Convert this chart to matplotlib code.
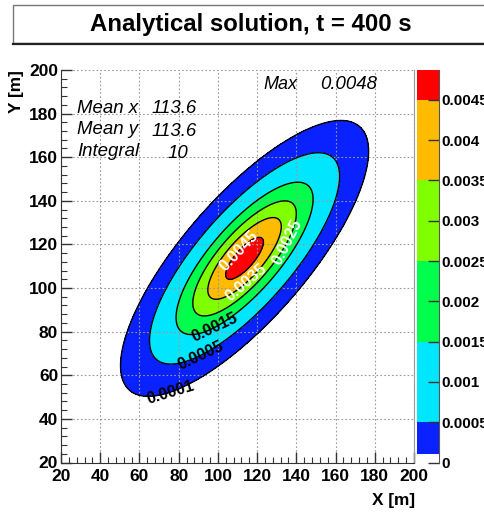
import numpy as np
import matplotlib
matplotlib.use("Agg")
import matplotlib.pyplot as plt
from matplotlib.patches import Rectangle
from matplotlib.ticker import MultipleLocator

plt.rcParams['font.family'] = ['Liberation Sans', 'DejaVu Sans']

# ---- data (analytical Gaussian plume parameters) ----
title = "Analytical solution, t = 400 s"
mean_x = 113.6
mean_y = 113.6
integral = 10.0
sigma_major = 30.2     # along the 45 deg diagonal
sigma_minor = 10.7
angle_deg = 45.0
max_text = "0.0048"

levels = [0.0001, 0.0005, 0.0015, 0.0025, 0.0035, 0.0045]
level_labels = ["0.0001", "0.0005", "0.0015", "0.0025", "0.0035", "0.0045"]
label_colors = ["black", "black", "black", "white", "white", "white"]
label_pos_x = [75.6, 90.9, 98.0, 136.3, 113.8, 113.3]
label_pos_y = [52.3, 69.3, 82.6, 120.7, 102.8, 114.7]
fill_colors = ["#0a22ff", "#00e6ff", "#00ff4c", "#80ff00", "#ffbb00", "#ff0000"]
cb_max = 0.00487
cb_ticks = [0, 0.0005, 0.001, 0.0015, 0.002, 0.0025, 0.003, 0.0035, 0.004, 0.0045]
cb_ticklabels = ["0", "0.0005", "0.001", "0.0015", "0.002", "0.0025", "0.003", "0.0035", "0.004", "0.0045"]
x_ticks = [20, 40, 60, 80, 100, 120, 140, 160, 180, 200]
y_ticks = [20, 40, 60, 80, 100, 120, 140, 160, 180, 200]

# ---- field ----
gx = np.linspace(20, 200, 601)
gy = np.linspace(20, 200, 601)
X, Y = np.meshgrid(gx, gy)
th = np.deg2rad(angle_deg)
u = (X - mean_x) * np.cos(th) + (Y - mean_y) * np.sin(th)
v = -(X - mean_x) * np.sin(th) + (Y - mean_y) * np.cos(th)
peak = integral / (2 * np.pi * sigma_major * sigma_minor)
Z = peak * np.exp(-0.5 * (u ** 2 / sigma_major ** 2 + v ** 2 / sigma_minor ** 2))

W, H = 485, 513
fig = plt.figure(figsize=(W / 100, H / 100), dpi=100)

def px_rect(l, t, r, b):
    return [l / W, 1 - b / H, (r - l) / W, (b - t) / H]

ax = fig.add_axes(px_rect(61, 70, 414, 462.5))
ax.contourf(X, Y, Z, levels=levels + [1.0], colors=fill_colors)
cs = ax.contour(X, Y, Z, levels=levels, colors="black", linewidths=1.0)
fmt = dict(zip(levels, level_labels))
texts = ax.clabel(cs, levels=levels, manual=list(zip(label_pos_x, label_pos_y)),
                  inline=False, fontsize=11.5, fmt=fmt, colors=label_colors)
for t in texts:
    t.set_fontweight("bold")

ax.set_xlim(20, 200)
ax.set_ylim(20, 200)
ax.set_xticks(x_ticks)
ax.set_yticks(y_ticks)
ax.xaxis.set_minor_locator(MultipleLocator(4))
ax.yaxis.set_minor_locator(MultipleLocator(4))
ax.tick_params(which="major", direction="in", length=8, width=1, colors="#333333",
               labelsize=12.5, labelcolor="black")
ax.tick_params(which="minor", direction="in", length=4, width=0.8, colors="#333333")
ax.tick_params(axis="x", pad=5)
ax.tick_params(axis="y", pad=2)
for lab in ax.get_xticklabels() + ax.get_yticklabels():
    lab.set_fontweight("bold")
ax.grid(True, which="major", linestyle=(0, (1.5, 2)), color="#999999", linewidth=0.8)
ax.spines["top"].set_visible(False)
ax.spines["right"].set_color("#999999")
ax.spines["right"].set_linewidth(0.8)
ax.spines["left"].set_color("#333333")
ax.spines["bottom"].set_color("#333333")

def fig_text(xp, yp, s, **kw):
    fig.text(xp / W, 1 - yp / H, s, **kw)

# stats text
fig_text(77, 113, "Mean x", fontsize=13.4, style="italic", va="baseline")
fig_text(197, 113, "113.6", fontsize=13.4, style="italic", va="baseline", ha="right")
fig_text(77, 134, "Mean y", fontsize=13.4, style="italic", va="baseline")
fig_text(197, 136, "113.6", fontsize=13.4, style="italic", va="baseline", ha="right")
fig_text(77, 156, "Integral", fontsize=13.4, style="italic", va="baseline")
fig_text(188, 158, "10", fontsize=13.4, style="italic", va="baseline", ha="right")
fig_text(263, 89, "Max", fontsize=13, style="italic", va="baseline")
fig_text(320, 89, max_text, fontsize=13.4, style="italic", va="baseline")

# axis titles
fig_text(415, 500, "X [m]", fontsize=12.4, fontweight="bold", ha="right", va="center")
fig_text(17, 70, "Y [m]", fontsize=12.4, fontweight="bold", ha="center", va="top", rotation=90)

# colorbar
cax = fig.add_axes(px_rect(417.3, 70, 439.5, 462.5))
bounds = levels + [cb_max]
for i, c in enumerate(fill_colors):
    cax.bar(0.5, bounds[i + 1] - bounds[i], bottom=bounds[i], width=1.0, color=c,
            linewidth=0)
cax.set_xlim(0, 1)
cax.set_ylim(0, cb_max)
cax.set_xticks([])
cax.set_yticks(cb_ticks)
cax.set_yticklabels(cb_ticklabels)
cax.yaxis.tick_right()
cax.tick_params(axis="y", direction="in", length=8, width=1, colors="#333333",
                labelsize=11, labelcolor="black", pad=1.5)
for lab in cax.get_yticklabels():
    lab.set_fontweight("bold")
for s in ["top", "left", "bottom"]:
    cax.spines[s].set_visible(False)
cax.spines["right"].set_color("#555555")
cax.patch.set_alpha(0)

# title box
fig.patches.append(Rectangle((13 / W, 1 - 43 / H), (W + 5 - 13) / W, 38 / H,
                             transform=fig.transFigure, facecolor="white",
                             edgecolor="#777777", linewidth=1.0))
fig.lines.append(plt.Line2D([13 / W, 1], [1 - 43.5 / H, 1 - 43.5 / H],
                            transform=fig.transFigure, color="#222222", linewidth=1.6))
fig_text(251, 24, title, fontsize=17.3, fontweight="bold", ha="center", va="center")

fig.savefig("out.png", dpi=100)
